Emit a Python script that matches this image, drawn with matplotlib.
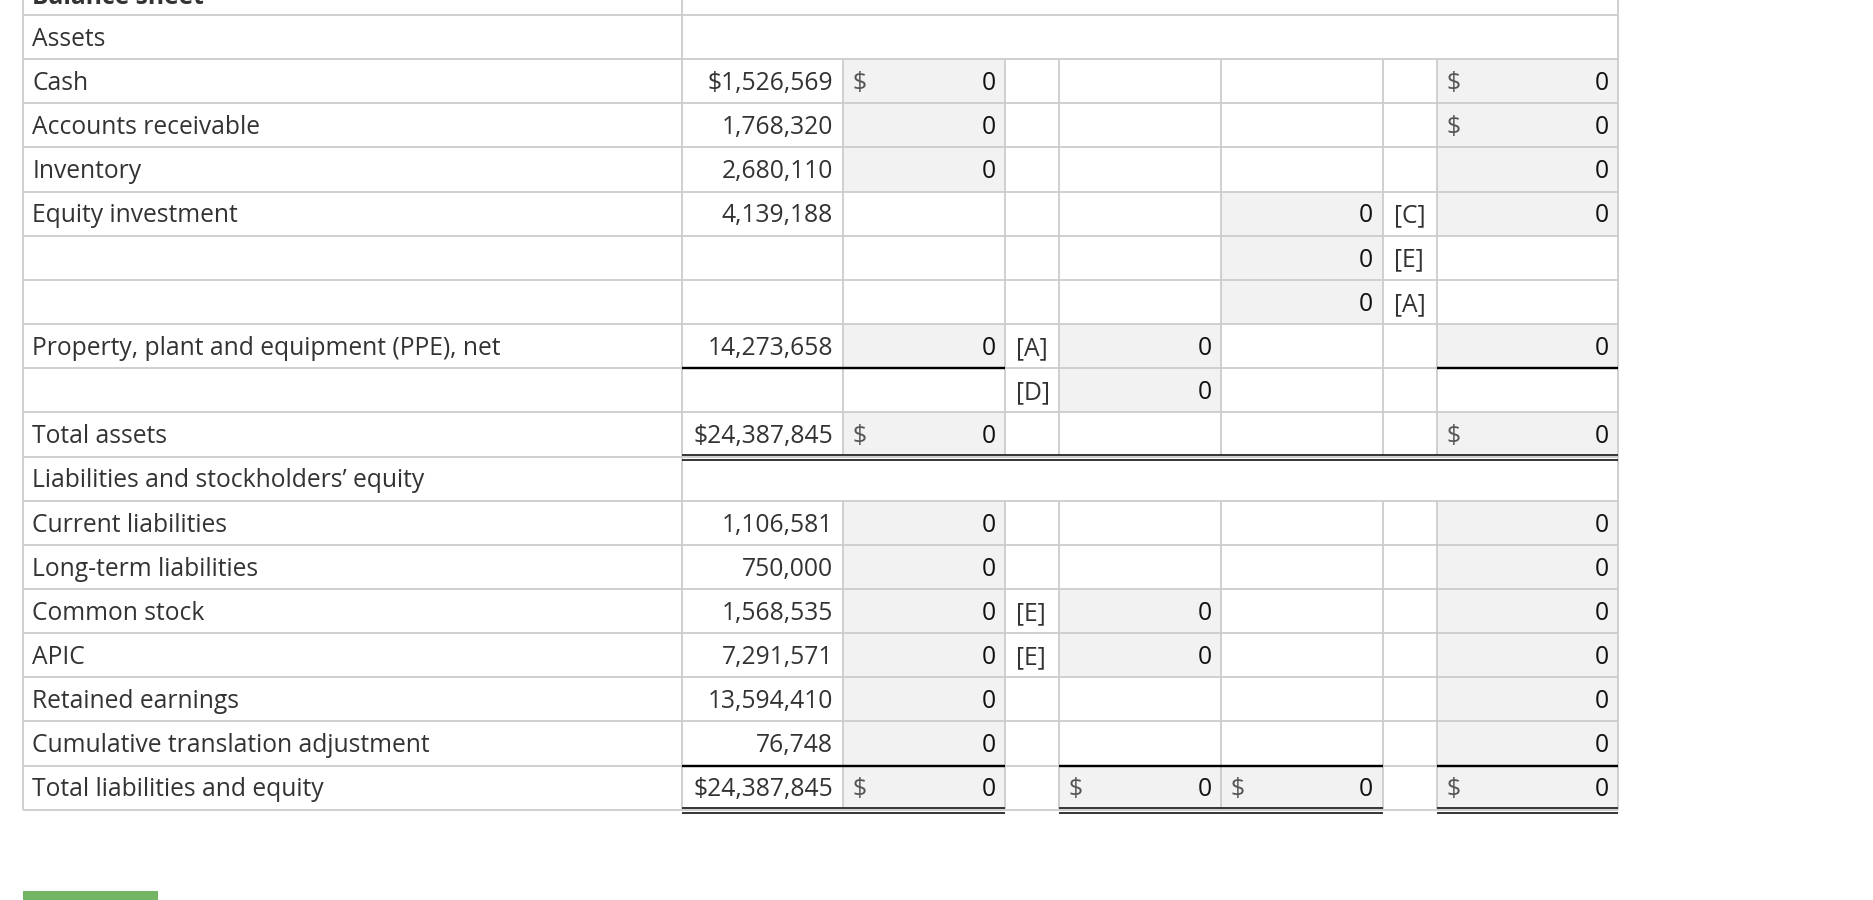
import matplotlib
matplotlib.use("Agg")
import matplotlib.pyplot as plt
from matplotlib.patches import Rectangle

# ---------------- data ----------------
row_labels = [
    "Balance sheet", "Assets", "Cash", "Accounts receivable", "Inventory",
    "Equity investment", "", "", "Property, plant and equipment (PPE), net", "",
    "Total assets", "Liabilities and stockholders\u2019 equity", "Current liabilities",
    "Long-term liabilities", "Common stock", "APIC", "Retained earnings",
    "Cumulative translation adjustment", "Total liabilities and equity",
]
section_rows = [0, 1, 11]          # rows whose value area is one merged cell
reported = [None, None, 1526569, 1768320, 2680110, 4139188, None, None, 14273658, None,
            24387845, None, 1106581, 750000, 1568535, 7291571, 13594410, 76748, 24387845]
reported_dollar = [2, 10, 18]
debit = [None, None, 0, 0, 0, None, None, None, 0, None,
         0, None, 0, 0, 0, 0, 0, 0, 0]
debit_dollar = [2, 10, 18]
debit_ref = [None] * 8 + ["[A]", "[D]"] + [None] * 4 + ["[E]", "[E]"] + [None] * 3
credit = [None] * 8 + [0, 0] + [None] * 4 + [0, 0] + [None, None, 0]
credit_dollar = [18]
elim = [None] * 5 + [0, 0, 0] + [None] * 10 + [0]
elim_ref = [None] * 5 + ["[C]", "[E]", "[A]"] + [None] * 11
elim_dollar = [18]
consol = [None, None, 0, 0, 0, 0, None, None, 0, None,
          0, None, 0, 0, 0, 0, 0, 0, 0]
consol_dollar = [2, 3, 10, 18]
single_rules = {8: [1, 2, 7], 17: [1, 2, 4, 5, 7]}     # black line under row
double_rules = {10: [1, 2, 3, 4, 5, 6, 7], 18: [1, 2, 4, 5, 7]}

# ---------------- layout (pixels) ----------------
W, H = 1874, 900
col_edges = [22.7, 682.4, 842.8, 1005.0, 1058.9, 1221.0, 1382.8, 1436.8, 1618.2]
row_top0 = 15.0 - 44.15
row_h = 44.15
PAD = 9.6
GRID = "#cccccc"
SHADE = "#f2f2f2"
TXT = "#333333"
FS = 17.7
FONT = "Open Sans"

fig = plt.figure(figsize=(W / 100, H / 100), dpi=100)
ax = fig.add_axes([0, 0, 1, 1])
ax.set_xlim(0, W)
ax.set_ylim(H, 0)
ax.axis("off")

def px(p):
    return p * 72 / 100

n = len(row_labels)
def rtop(i):
    return row_top0 + i * row_h

# shading of input cells
for col, vals in ((2, debit), (4, credit), (5, elim), (7, consol)):
    for i, v in enumerate(vals):
        if v is not None:
            ax.add_patch(Rectangle((col_edges[col], rtop(i)), col_edges[col + 1] - col_edges[col],
                                   row_h, facecolor=SHADE, edgecolor="none", zorder=1))

# grid: horizontals
for i in range(n + 1):
    y = rtop(i)
    ax.plot([col_edges[0], col_edges[-1]], [y, y], color=GRID, lw=px(1.8), zorder=2,
            solid_capstyle="butt")
# verticals
for i in range(n):
    y0, y1 = rtop(i), rtop(i + 1)
    edges = [col_edges[0], col_edges[1], col_edges[-1]] if i in section_rows else col_edges
    for x in edges:
        ax.plot([x, x], [y0, y1], color=GRID, lw=px(1.8), zorder=2, solid_capstyle="butt")

# single black rules
for r, cols in single_rules.items():
    y = rtop(r + 1)
    for c in cols:
        ax.plot([col_edges[c], col_edges[c + 1]], [y, y], color="#000000", lw=px(2.4),
                zorder=3, solid_capstyle="butt")
# double rules
for r, cols in double_rules.items():
    y = rtop(r + 1)
    for c in cols:
        for dy in (-1.6, 3.2):
            ax.plot([col_edges[c], col_edges[c + 1]], [y + dy, y + dy], color="#3a3a3a",
                    lw=px(2.0), zorder=3, solid_capstyle="butt")

def base(i):
    return rtop(i) + row_h / 2 + 8.8

# labels
for i, lab in enumerate(row_labels):
    if not lab:
        continue
    if i == 0:
        ax.text(col_edges[0] + PAD, 4.0, lab, fontsize=FS, family=FONT, weight="bold",
                color=TXT, va="baseline", ha="left", zorder=4)
    else:
        ax.text(col_edges[0] + PAD, base(i), lab, fontsize=FS, family=FONT, color=TXT,
                va="baseline", ha="left", zorder=4)

# reported column
for i, v in enumerate(reported):
    if v is None:
        continue
    s = f"{v:,}"
    if i in reported_dollar:
        s = "$" + s
    ax.text(col_edges[2] - PAD, base(i), s, fontsize=FS, family=FONT, color=TXT,
            va="baseline", ha="right", zorder=4)

# input columns
for col, vals, dol in ((2, debit, debit_dollar), (4, credit, credit_dollar),
                       (5, elim, elim_dollar), (7, consol, consol_dollar)):
    for i, v in enumerate(vals):
        if v is None:
            continue
        ax.text(col_edges[col + 1] - PAD, base(i), f"{v:,}", fontsize=FS, family=FONT,
                color="#111111", va="baseline", ha="right", zorder=4)
        if i in dol:
            ax.text(col_edges[col] + PAD, base(i), "$", fontsize=FS, family=FONT,
                    color="#555555", va="baseline", ha="left", zorder=4)

# reference columns
for col, refs in ((3, debit_ref), (6, elim_ref)):
    for i, s in enumerate(refs):
        if s is None:
            continue
        ax.text(col_edges[col] + 11, base(i), s, fontsize=FS, family=FONT, color=TXT,
                va="baseline", ha="left", zorder=4)

# green button (cut off at the bottom)
ax.add_patch(Rectangle((22.7, 890.5), 135.0, 20, facecolor="#74b565", edgecolor="none",
                       zorder=1))

fig.savefig("out.png", dpi=100, facecolor="white")
